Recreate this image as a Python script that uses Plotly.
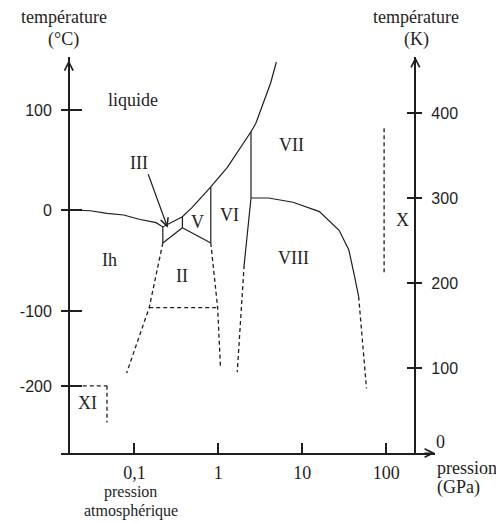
import numpy as np
import plotly.graph_objects as go

# Diagramme de phases de l'eau (schéma) : pression en GPa, température en K

# courbe de fusion (frontière avec le liquide)
fusion_p = [0.0165, 0.0298, 0.0471, 0.0744, 0.114, 0.181, 0.218, 0.373, 0.488, 0.813, 1.28, 1.87, 2.45, 2.80, 3.47, 4.19, 4.92]
fusion_t = [286, 285, 282, 280, 275, 271, 266, 278, 289, 313, 336, 360, 378, 388, 412, 435, 460]

# frontières solides (traits pleins)
ih_iii_p, ih_iii_t = [0.218, 0.218], [266, 247]
iii_ii_p, iii_ii_t = [0.218, 0.373], [247, 265]
iii_v_p, iii_v_t = [0.373, 0.373], [278, 265]
v_ii_p, v_ii_t = [0.373, 0.813], [265, 247]
v_vi_p, v_vi_t = [0.813, 0.813], [313, 247]
vi_vii_p, vi_vii_t = [2.45, 2.45], [378, 300]
vi_viii_p, vi_viii_t = [2.45, 2.14, 2.03], [300, 242, 221]
vii_viii_p = [2.45, 3.97, 7.77, 16.0, 27.5, 35.9, 42.2, 47.0]
vii_viii_t = [300, 300, 295, 284, 262, 239, 207, 184]

# frontières incertaines (pointillés)
viii_bas_p, viii_bas_t = [47.0, 58.3], [184, 76]
vi_viii_bas_p, vi_viii_bas_t = [2.03, 1.68], [221, 95]
ii_vi_bas_p, ii_vi_bas_t = [0.813, 0.981, 1.06], [247, 171, 101]
ih_ii_bas_p, ih_ii_bas_t = [0.218, 0.150, 0.0807], [247, 171, 94]
ii_ix_p, ii_ix_t = [0.150, 0.981], [171, 171]
x_lim_p, x_lim_t = [94.5, 94.5], [382, 209]
xi_h_p, xi_h_t = [0.0165, 0.0471], [79, 79]
xi_v_p, xi_v_t = [0.0471, 0.0471], [79, 36]

# axes
p_ticks = [0.1, 1, 10, 100]
p_labels = ['0,1', '1', '10', '100']
k_ticks = [100, 200, 300, 400]
c_ticks_k = [78.8, 167.1, 285.9, 403.5]   # position des graduations °C sur l'échelle du schéma
c_labels = ['-200', '-100', '0', '100']

# régions
phases = ['liquide', 'III', 'Ih', 'II', 'V', 'VI', 'VII', 'VIII', 'X', 'XI']
phase_p = [0.0973, 0.114, 0.0511, 0.373, 0.558, 1.355, 7.36, 7.77, 157, 0.0275]
phase_t = [415, 341, 227, 208, 272, 280, 362, 229, 274, 59]


def joindre(*segs):
    xs, ys = [], []
    for p, t in segs:
        xs += list(p) + [None]
        ys += list(t) + [None]
    return xs, ys


SERIF = 'Liberation Serif'
SANS = 'Liberation Sans'
INK = '#1e1e1e'

fig = go.Figure()

sx, sy = joindre((fusion_p, fusion_t), (ih_iii_p, ih_iii_t), (iii_ii_p, iii_ii_t),
                 (iii_v_p, iii_v_t), (v_ii_p, v_ii_t), (v_vi_p, v_vi_t),
                 (vi_vii_p, vi_vii_t), (vi_viii_p, vi_viii_t), (vii_viii_p, vii_viii_t))
fig.add_trace(go.Scatter(x=sx, y=sy, mode='lines', line=dict(color=INK, width=1.2),
                         hoverinfo='skip', showlegend=False))

dx, dy = joindre((viii_bas_p, viii_bas_t), (vi_viii_bas_p, vi_viii_bas_t),
                 (ii_vi_bas_p, ii_vi_bas_t), (ih_ii_bas_p, ih_ii_bas_t),
                 (ii_ix_p, ii_ix_t), (x_lim_p, x_lim_t), (xi_h_p, xi_h_t), (xi_v_p, xi_v_t))
fig.add_trace(go.Scatter(x=dx, y=dy, mode='lines', line=dict(color=INK, width=1.3, dash='4px,3px'),
                         hoverinfo='skip', showlegend=False))

# traces vides pour faire apparaître les axes supplémentaires
for ya in ['y2', 'y3', 'y4']:
    fig.add_trace(go.Scatter(x=[None], y=[None], yaxis=ya, showlegend=False, hoverinfo='skip'))

for name, p, t in zip(phases, phase_p, phase_t):
    fig.add_annotation(x=np.log10(p), y=t, text=name, showarrow=False,
                       font=dict(family=SERIF, size=18, color=INK))

# flèche vers la phase III
fig.add_annotation(x=np.log10(0.249), y=265, ax=-20, ay=-55, text='', showarrow=True,
                   arrowhead=5, arrowsize=1.3, arrowwidth=1.2, arrowcolor=INK)

YMAX = 465.9
LEFT_POS = 0.0209
RIGHT_POS = 0.9476
ax_line = dict(showgrid=False, zeroline=False, range=[0, YMAX], fixedrange=True)

fig.update_layout(
    width=504, height=523,
    margin=dict(l=45, r=77, t=49, b=78),
    paper_bgcolor='white', plot_bgcolor='white',
    xaxis=dict(type='log', range=[-1.875, 2.582], showgrid=False, zeroline=False,
               showline=True, linecolor=INK, linewidth=1.5,
               ticks='inside', ticklen=10, tickwidth=1.5, tickcolor=INK,
               tickvals=p_ticks, ticktext=p_labels, ticklabelstandoff=3,
               tickfont=dict(family=SERIF, size=18, color=INK)),
    yaxis=dict(**ax_line, anchor='free', position=LEFT_POS, side='left',
               showline=True, linecolor=INK, linewidth=1.5,
               ticks='outside', ticklen=7, tickwidth=1.5, tickcolor=INK,
               tickvals=c_ticks_k, ticktext=c_labels, ticklabelstandoff=6,
               tickfont=dict(family=SANS, size=16, color=INK)),
    yaxis3=dict(**ax_line, anchor='free', position=LEFT_POS, side='left', overlaying='y',
                showline=False, ticks='inside', ticklen=12, tickwidth=1.5, tickcolor=INK,
                tickvals=c_ticks_k, showticklabels=False),
    yaxis2=dict(**ax_line, anchor='free', position=RIGHT_POS, side='right', overlaying='y',
                showline=True, linecolor=INK, linewidth=1.5,
                ticks='outside', ticklen=6, tickwidth=1.5, tickcolor=INK,
                tickvals=k_ticks, ticklabelstandoff=6,
                tickfont=dict(family=SANS, size=16, color=INK)),
    yaxis4=dict(**ax_line, anchor='free', position=RIGHT_POS, side='right', overlaying='y',
                showline=False, ticks='inside', ticklen=8, tickwidth=1.5, tickcolor=INK,
                tickvals=k_ticks, showticklabels=False),
)

# pointes de flèche des axes
for xp, yp, axp, ayp in [(LEFT_POS, 0.992, 0, 12), (RIGHT_POS, 1.0, 0, 12), (1.0, 0.0, -12, 0)]:
    fig.add_annotation(x=xp, y=yp, xref='paper', yref='paper', ax=axp, ay=ayp, text='',
                       showarrow=True, arrowhead=5, arrowsize=1.4, arrowwidth=1.2, arrowcolor=INK)

# titres des axes
titres = [
    ('température', 0.0079, 1.101, 'center', 18),
    ('(°C)', 0.0079, 1.043, 'center', 18),
    ('température', 0.950, 1.101, 'center', 18),
    ('(K)', 0.950, 1.043, 'center', 18),
    ('pression', 1.0, -0.038, 'left', 18),
    ('(GPa)', 1.0, -0.088, 'left', 18),
    ('pression', 0.186, -0.0985, 'center', 16),
    ('atmosphérique', 0.186, -0.146, 'center', 16),
]
for txt, xp, yp, anc, fs in titres:
    fig.add_annotation(x=xp, y=yp, xref='paper', yref='paper', text=txt, showarrow=False,
                       xanchor=anc, yanchor='middle', font=dict(family=SERIF, size=fs, color=INK))

# graduation 0 K, décalée au-dessus de la flèche
fig.add_annotation(x=RIGHT_POS, y=0, xref='paper', yref='y', text='0', showarrow=False,
                   xanchor='left', yanchor='middle', xshift=19, yshift=11,
                   font=dict(family=SERIF, size=18, color=INK))

fig.write_html("out.html")
